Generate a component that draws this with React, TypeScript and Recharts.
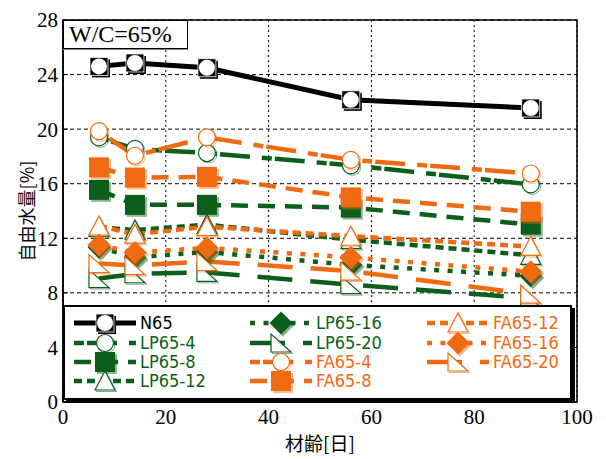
import {
  LineChart,
  Line,
  XAxis,
  YAxis,
  CartesianGrid,
  Legend,
  ReferenceArea
} from 'recharts'

// 材齢 [日]
const ages = [7, 14, 28, 56, 91]

// 自由水量 [%]
const n65 = [24.6, 24.85, 24.5, 22.15, 21.55]
const lp65_4 = [19.4, 18.55, 18.25, 17.35, 15.95]
const lp65_8 = [15.55, 14.45, 14.45, 14.25, 13.0]
const lp65_12 = [12.8, 12.6, 13.0, 11.9, 10.75]
const lp65_16 = [11.35, 10.6, 11.0, 10.05, 9.25]
const lp65_20 = [9.05, 9.4, 9.5, 8.6, 7.6]
const fa65_4 = [19.85, 18.05, 19.4, 17.75, 16.75]
const fa65_8 = [17.2, 16.45, 16.5, 15.0, 13.95]
const fa65_12 = [12.9, 12.3, 12.85, 12.15, 11.4]
const fa65_16 = [11.5, 10.95, 11.3, 10.6, 9.55]
const fa65_20 = [10.15, 10.0, 10.3, 9.6, 7.9]

const xTicks = [0, 20, 40, 60, 80, 100]
const yTicks = [0, 4, 8, 12, 16, 20, 24, 28]
const yMinorTicks = Array.from({ length: 36 }, (_, i) => +(i * 0.8).toFixed(1))

const BLACK = '#000000'
const GREEN = '#0c5f1a'
const ORANGE = '#f06a12'
const serif = "'Liberation Serif', 'Times New Roman', serif"
const gothic = "'Noto Sans CJK JP', sans-serif"
const legendFont = "'DejaVu Sans Condensed', 'Liberation Sans Narrow', sans-serif"

type MarkerKind = 'n65' | 'circle' | 'square' | 'triangle' | 'diamond' | 'rtri'

const DASH_DOT = '10 3 30 12'
const DASHED = '17 10'
const SHORT_DASH = '8 5'
const DOTTED = '5 8.5'
const LONG_DASH = '35 18'

const series = [
  { key: 'n65', name: 'N65', values: n65, color: BLACK, dash: undefined, width: 5, marker: 'n65' as MarkerKind },
  { key: 'lp65_4', name: 'LP65-4', values: lp65_4, color: GREEN, dash: DASH_DOT, width: 4.5, marker: 'circle' as MarkerKind },
  { key: 'lp65_8', name: 'LP65-8', values: lp65_8, color: GREEN, dash: DASHED, width: 4.5, marker: 'square' as MarkerKind },
  { key: 'lp65_12', name: 'LP65-12', values: lp65_12, color: GREEN, dash: SHORT_DASH, width: 4.5, marker: 'triangle' as MarkerKind },
  { key: 'lp65_16', name: 'LP65-16', values: lp65_16, color: GREEN, dash: DOTTED, width: 4.5, marker: 'diamond' as MarkerKind },
  { key: 'lp65_20', name: 'LP65-20', values: lp65_20, color: GREEN, dash: LONG_DASH, width: 4.5, marker: 'rtri' as MarkerKind },
  { key: 'fa65_4', name: 'FA65-4', values: fa65_4, color: ORANGE, dash: DASH_DOT, width: 4.5, marker: 'circle' as MarkerKind },
  { key: 'fa65_8', name: 'FA65-8', values: fa65_8, color: ORANGE, dash: DASHED, width: 4.5, marker: 'square' as MarkerKind },
  { key: 'fa65_12', name: 'FA65-12', values: fa65_12, color: ORANGE, dash: SHORT_DASH, width: 4.5, marker: 'triangle' as MarkerKind },
  { key: 'fa65_16', name: 'FA65-16', values: fa65_16, color: ORANGE, dash: DOTTED, width: 4.5, marker: 'diamond' as MarkerKind },
  { key: 'fa65_20', name: 'FA65-20', values: fa65_20, color: ORANGE, dash: LONG_DASH, width: 4.5, marker: 'rtri' as MarkerKind }
]

const rows = ages.map((age, i) => {
  const row: Record<string, number> = { age }
  series.forEach((s) => {
    row[s.key] = s.values[i]
  })
  return row
})

function markerShape(kind: MarkerKind, color: string, x: number, y: number) {
  switch (kind) {
    case 'n65':
      return (
        <>
          <rect x={x - 7} y={y - 7} width={18} height={18} fill={BLACK} />
          <rect x={x - 9} y={y - 9} width={18} height={18} fill={BLACK} stroke="#fff" strokeWidth={0.8} />
          <circle cx={x} cy={y} r={8} fill="#fff" />
        </>
      )
    case 'circle':
      return (
        <>
          <circle cx={x + 1.5} cy={y + 1.5} r={8.5} fill="none" stroke={color} strokeOpacity={0.5} />
          <circle cx={x} cy={y} r={8.5} fill="#fff" stroke={color} strokeWidth={1.2} />
        </>
      )
    case 'square':
      return (
        <>
          <rect x={x - 8} y={y - 8} width={20} height={20} fill={color} fillOpacity={0.45} />
          <rect x={x - 10} y={y - 10} width={20} height={20} fill={color} />
        </>
      )
    case 'triangle': {
      const pts = (dx: number, dy: number) =>
        `${x + dx},${y - 10 + dy} ${x + 10 + dx},${y + 9 + dy} ${x - 10 + dx},${y + 9 + dy}`
      return (
        <>
          <polygon points={pts(1.5, 1.5)} fill="none" stroke={color} strokeOpacity={0.5} />
          <polygon points={pts(0, 0)} fill="#fff" stroke={color} strokeWidth={1.2} />
        </>
      )
    }
    case 'diamond': {
      const pts = (dx: number, dy: number) =>
        `${x + dx},${y - 11.5 + dy} ${x + 11.5 + dx},${y + dy} ${x + dx},${y + 11.5 + dy} ${x - 11.5 + dx},${y + dy}`
      return (
        <>
          <polygon points={pts(2, 2)} fill={color} fillOpacity={0.5} />
          <polygon points={pts(0, 0)} fill={color} />
        </>
      )
    }
    case 'rtri': {
      const pts = (dx: number, dy: number) =>
        `${x - 10 + dx},${y - 9 + dy} ${x - 10 + dx},${y + 9 + dy} ${x + 10 + dx},${y + 9 + dy}`
      return (
        <>
          <polygon points={pts(1.5, 1.5)} fill="none" stroke={color} strokeOpacity={0.5} />
          <polygon points={pts(0, 0)} fill="#fff" stroke={color} strokeWidth={1.2} />
        </>
      )
    }
  }
}

const renderDot = (kind: MarkerKind, color: string, name: string) => (props: any) => {
  const { cx, cy, index } = props
  if (cx == null || cy == null) return <g key={`${name}-${index}`} />
  return <g key={`${name}-${index}`}>{markerShape(kind, color, cx, cy)}</g>
}

const legendCols = [
  ['n65', 'lp65_4', 'lp65_8', 'lp65_12'],
  ['lp65_16', 'lp65_20', 'fa65_4', 'fa65_8'],
  ['fa65_12', 'fa65_16', 'fa65_20']
]
const colSampleX = [9, 185, 362]
const colTextX = [75, 251, 428]
const rowY = [16, 36, 55, 74]

function LegendBox() {
  return (
    <div
      style={{
        position: 'relative',
        width: 509,
        height: 95,
        boxSizing: 'border-box',
        background: '#fff',
        border: '2px solid #000',
        boxShadow: '3px 3px 0 #000'
      }}
    >
      {legendCols.map((col, ci) =>
        col.map((key, ri) => {
          const s = series.find((d) => d.key === key)!
          return (
            <div
              key={key}
              style={{ position: 'absolute', left: colSampleX[ci], top: rowY[ri] - 12, height: 24, display: 'flex', alignItems: 'center' }}
            >
              <svg width={62} height={24} style={{ display: 'block', overflow: 'visible' }}>
                <line x1={0} y1={12} x2={62} y2={12} stroke={s.color} strokeWidth={s.width} strokeDasharray={s.dash} />
                {markerShape(s.marker, s.color, 31, 12)}
              </svg>
              <span
                style={{
                  marginLeft: colTextX[ci] - colSampleX[ci] - 62,
                  color: s.color,
                  fontSize: 18,
                  fontFamily: legendFont,
                  lineHeight: '24px',
                  whiteSpace: 'nowrap'
                }}
              >
                {s.name}
              </span>
            </div>
          )
        })
      )}
    </div>
  )
}

const YLabel = (props: any) => {
  const { x, y, height } = props.viewBox
  const cx = x + 18
  const cy = y + height / 2
  return (
    <text
      x={cx}
      y={cy}
      transform={`rotate(-90 ${cx} ${cy})`}
      textAnchor="middle"
      dominantBaseline="central"
      fill="#000"
      fontSize={18}
      fontFamily={gothic}
    >
      自由水量[%]
    </text>
  )
}

export default function App() {
  return (
    <div style={{ position: 'absolute', left: 0, top: 0, width: 606, height: 459, background: '#fff' }}>
      <LineChart width={606} height={459} data={rows} margin={{ top: 20, right: 29, bottom: 0, left: 8 }}>
        <CartesianGrid vertical={false} stroke="#000" strokeDasharray="4 3" />
        <CartesianGrid horizontal={false} stroke="#000" strokeDasharray="2 3" />
        <XAxis
          dataKey="age"
          type="number"
          domain={[0, 100]}
          ticks={xTicks}
          interval={0}
          height={57}
          tickSize={0}
          tickMargin={7}
          axisLine={{ stroke: '#000', strokeWidth: 1.5 }}
          tick={{ fill: '#000', fontSize: 21, fontFamily: serif }}
          label={{
            value: '材齢[日]',
            position: 'insideBottom',
            offset: 8,
            style: { fill: '#000', fontSize: 19, fontFamily: gothic }
          }}
        />
        <YAxis
          type="number"
          domain={[0, 28]}
          ticks={yTicks}
          interval={0}
          width={55}
          tickSize={-5}
          tickMargin={10}
          axisLine={{ stroke: '#000', strokeWidth: 1.5 }}
          tickLine={{ stroke: '#000' }}
          tick={{ fill: '#000', fontSize: 21, fontFamily: serif }}
          label={{ content: YLabel }}
        />
        <YAxis
          yAxisId="minorLeft"
          type="number"
          domain={[0, 28]}
          ticks={yMinorTicks}
          interval={0}
          mirror
          width={0}
          tick={false}
          tickSize={3}
          axisLine={false}
          tickLine={{ stroke: '#000' }}
        />
        <YAxis
          yAxisId="minorRight"
          orientation="right"
          type="number"
          domain={[0, 28]}
          ticks={yMinorTicks}
          interval={0}
          mirror
          width={0}
          tick={false}
          tickSize={3}
          axisLine={false}
          tickLine={{ stroke: '#000' }}
        />
        <ReferenceArea x1={0} x2={100} y1={0} y2={28} fill="none" stroke="#000" strokeWidth={1.5} />
        {series.map((s) => (
          <Line
            key={s.key}
            dataKey={s.key}
            name={s.name}
            type="linear"
            stroke={s.color}
            strokeWidth={s.width}
            strokeDasharray={s.dash}
            dot={renderDot(s.marker, s.color, s.key)}
            activeDot={false}
            isAnimationActive={false}
          />
        ))}
        <Legend
          layout="horizontal"
          verticalAlign="middle"
          align="center"
          wrapperStyle={{ left: 63, top: 305, width: 509, height: 95 }}
          content={() => <LegendBox />}
        />
      </LineChart>
      <div
        style={{
          position: 'absolute',
          left: 63,
          top: 20,
          width: 125,
          height: 29,
          boxSizing: 'border-box',
          background: '#fff',
          border: '1px solid #000',
          boxShadow: '0 1px 0 #888',
          fontFamily: serif,
          fontSize: 24,
          lineHeight: '27px',
          paddingLeft: 5,
          color: '#000'
        }}
      >
        W/C=65%
      </div>
    </div>
  )
}
